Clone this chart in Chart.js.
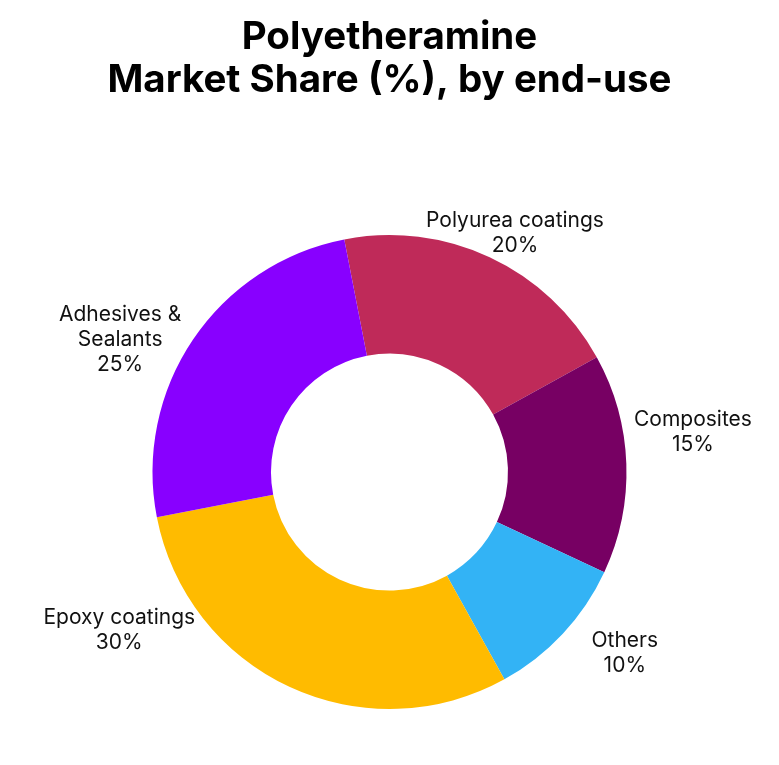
<!DOCTYPE html>
<html>
<head>
<meta charset="utf-8">
<script src="https://cdn.jsdelivr.net/npm/chart.js@4"></script>
<style>
    html, body { margin: 0; padding: 0; background: #ffffff; }
    #wrap { width: 779px; height: 765px; }
</style>
</head>
<body>
<div id="wrap"><canvas id="shareChart"></canvas></div>
<script>
// Slices in drawing order (clockwise, starting just left of 12 o'clock)
const categories = ['Polyurea coatings', 'Composites', 'Others', 'Epoxy coatings', 'Adhesives & Sealants'];
const shares = [20, 15, 10, 30, 25];
const labelLines = [
    ['Polyurea coatings'],
    ['Composites'],
    ['Others'],
    ['Epoxy coatings'],
    ['Adhesives &', 'Sealants']
];

const sliceColors = ['#BF2A59', '#770063', '#33B3F5', '#FFBB00', '#8800FF'];

// Outside labels: nudge (degrees) and gap (px beyond the outer edge) per slice
const labelNudge = [2.7, -5.4, -5.4, 34.7, -7.9];
const labelGap = [33, 69, 60, 76, 63];

const outsideLabels = {
    id: 'outsideLabels',
    afterDatasetsDraw(chart) {
        const ctx = chart.ctx;
        const meta = chart.getDatasetMeta(0);
        ctx.save();
        ctx.font = '21px Inter, sans-serif';
        ctx.fillStyle = '#111111';
        ctx.textAlign = 'center';
        ctx.textBaseline = 'middle';
        meta.data.forEach((arc, i) => {
            const { x, y, startAngle, endAngle, outerRadius } = arc.getProps(['x', 'y', 'startAngle', 'endAngle', 'outerRadius'], true);
            const mid = (startAngle + endAngle) / 2 + labelNudge[i] * Math.PI / 180;
            const r = outerRadius + labelGap[i];
            const lx = x + Math.cos(mid) * r;
            const ly = y + Math.sin(mid) * r;
            const lines = labelLines[i].concat([shares[i] + '%']);
            const lineH = 25;
            const top = ly - (lines.length - 1) * lineH / 2;
            lines.forEach((t, k) => ctx.fillText(t, lx, top + k * lineH));
        });
        ctx.restore();
    }
};

new Chart(document.getElementById('shareChart'), {
    type: 'doughnut',
    data: {
        labels: categories,
        datasets: [{
            data: shares,
            backgroundColor: sliceColors,
            borderWidth: 0,
            hoverOffset: 0
        }]
    },
    options: {
        responsive: true,
        maintainAspectRatio: false,
        animation: false,
        rotation: -11,
        cutout: '50%',
        layout: {
            padding: { top: 0, left: 0, right: 0, bottom: 56 }
        },
        plugins: {
            legend: { display: false },
            tooltip: { enabled: false },
            title: {
                display: true,
                text: ['Polyetheramine', 'Market Share (%), by end-use'],
                color: '#000000',
                font: { family: 'Inter', size: 38.5, weight: 'bold', lineHeight: 1.12 },
                padding: { top: 16, bottom: 132.8 }
            }
        }
    },
    plugins: [outsideLabels]
});
</script>
</body>
</html>
